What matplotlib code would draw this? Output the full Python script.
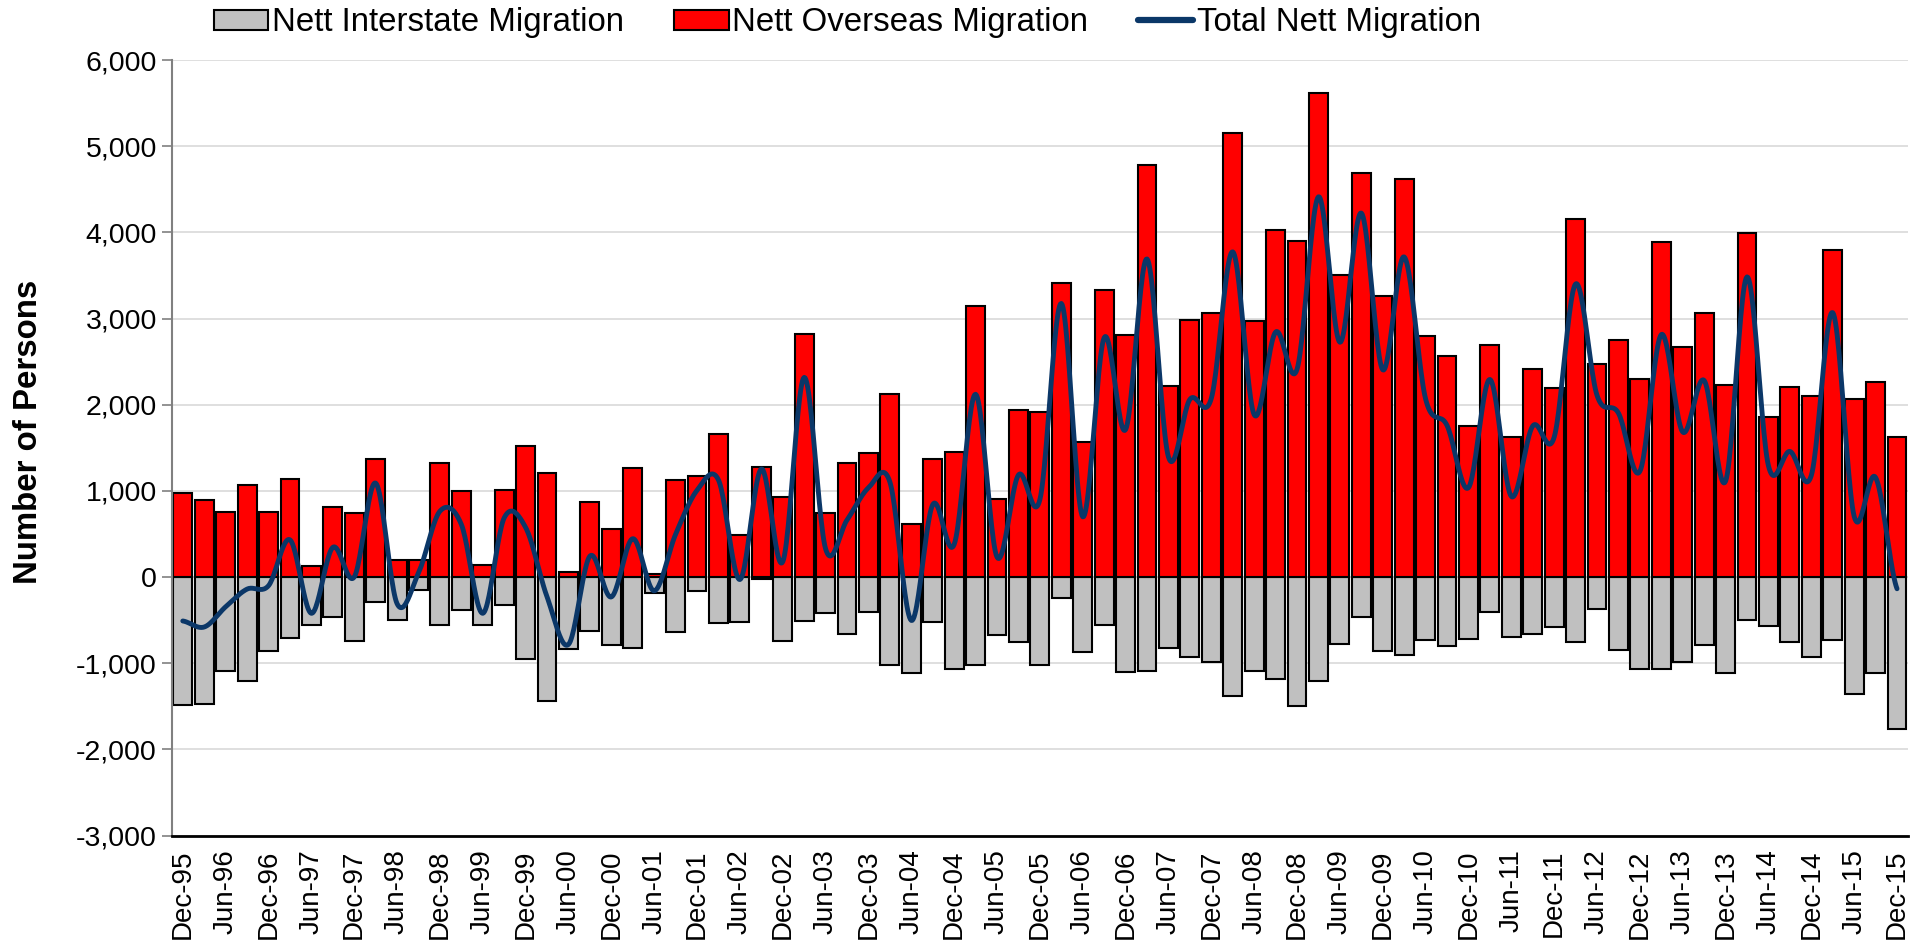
import numpy as np
import matplotlib.pyplot as plt
from matplotlib.ticker import FuncFormatter, MultipleLocator
from matplotlib.patches import Patch
from matplotlib.lines import Line2D

plt.rcParams['font.family'] = ['Liberation Sans', 'DejaVu Sans']

# quarterly, Dec-95 .. Dec-15
overseas = [980, 890, 750, 1070, 752, 1143, 130, 812, 746, 1374,
            195, 195, 1321, 995, 136, 1013, 1523, 1203, 59, 865,
            563, 1268, 30, 1131, 1173, 1659, 492, 1274, 924, 2826,
            746, 1321, 1445, 2121, 610, 1368, 1451, 3140, 906, 1943,
            1919, 3418, 1570, 3335, 2814, 4781, 2216, 2986, 3063, 5154,
            2974, 4028, 3904, 5622, 3507, 4686, 3258, 4621, 2796, 2565,
            1754, 2696, 1629, 2417, 2198, 4159, 2476, 2749, 2299, 3886,
            2666, 3069, 2227, 3987, 1854, 2210, 2103, 3797, 2068, 2269,
            1629]
interstate = [-1490, -1470, -1095, -1210, -853, -711, -551, -468, -746, -284,
              -504, -148, -557, -385, -557, -326, -948, -1434, -841, -622,
              -794, -823, -190, -634, -166, -533, -521, -20, -746, -509,
              -420, -658, -409, -1019, -1114, -527, -1072, -1019, -675, -758,
              -1019, -243, -871, -557, -1102, -1090, -823, -924, -989, -1380,
              -1090, -1185, -1493, -1209, -782, -462, -853, -906, -729, -806,
              -717, -403, -693, -664, -575, -758, -367, -847, -1072, -1072,
              -983, -788, -1114, -504, -563, -752, -924, -729, -1363, -1114,
              -1765]
tick_labels = ['Dec-95', 'Jun-96', 'Dec-96', 'Jun-97', 'Dec-97', 'Jun-98', 'Dec-98',
               'Jun-99', 'Dec-99', 'Jun-00', 'Dec-00', 'Jun-01', 'Dec-01', 'Jun-02',
               'Dec-02', 'Jun-03', 'Dec-03', 'Jun-04', 'Dec-04', 'Jun-05', 'Dec-05',
               'Jun-06', 'Dec-06', 'Jun-07', 'Dec-07', 'Jun-08', 'Dec-08', 'Jun-09',
               'Dec-09', 'Jun-10', 'Dec-10', 'Jun-11', 'Dec-11', 'Jun-12', 'Dec-12',
               'Jun-13', 'Dec-13', 'Jun-14', 'Dec-14', 'Jun-15', 'Dec-15']

overseas = np.array(overseas)
interstate = np.array(interstate)
total = overseas + interstate
x = np.arange(len(overseas))

NAVY = '#0B3768'


def smooth_line(y, n=24):
    # catmull-rom style curve, like excel's "smoothed line"
    y = np.asarray(y, float)
    ext = np.concatenate([[y[0]], y, [y[-1]]])
    xs, ys = [], []
    t = np.linspace(0, 1, n, endpoint=False)
    for i in range(len(y) - 1):
        p0, p1, p2, p3 = ext[i:i + 4]
        m1 = (p2 - p0) / 2
        m2 = (p3 - p1) / 2
        h00 = 2 * t**3 - 3 * t**2 + 1
        h10 = t**3 - 2 * t**2 + t
        h01 = -2 * t**3 + 3 * t**2
        h11 = t**3 - t**2
        ys.append(h00 * p1 + h10 * m1 + h01 * p2 + h11 * m2)
        xs.append(i + t)
    xs.append([len(y) - 1])
    ys.append([y[-1]])
    return np.concatenate(xs), np.concatenate(ys)


fig = plt.figure(figsize=(19.27, 9.5), dpi=100)
ax = fig.add_axes([0.0893, 0.1205, 0.9007, 0.8163])

ax.bar(x, interstate, width=0.88, color='#C0C0C0', edgecolor='black', linewidth=1.5, zorder=2)
ax.bar(x, overseas, width=0.88, color='#FF0000', edgecolor='black', linewidth=1.5, zorder=2)
sx, sy = smooth_line(total)
ax.plot(sx, sy, color=NAVY, linewidth=3.5, zorder=3, solid_capstyle='round')

ax.set_xlim(-0.5, len(x) - 0.5)
ax.set_ylim(-3000, 6000)
ax.yaxis.set_major_locator(MultipleLocator(1000))
ax.yaxis.set_major_formatter(FuncFormatter(lambda v, p: f'{int(v):,}'))
ax.grid(axis='y', color='#D9D9D9', linewidth=1.2, zorder=0)
ax.set_axisbelow(True)

ax.set_xticks(x[::2])
ax.set_xticklabels(tick_labels, rotation=90, fontsize=20)
ax.tick_params(axis='x', length=0, pad=10)
ax.tick_params(axis='y', labelsize=20.5, length=7, width=1.2, color='#808080', pad=4)

for s in ['top', 'right']:
    ax.spines[s].set_visible(False)
ax.spines['left'].set_color('#808080')
ax.spines['left'].set_linewidth(1.5)
ax.spines['bottom'].set_color('black')
ax.spines['bottom'].set_linewidth(2)

fig.text(29 / 1927, 0.545, 'Number of Persons', rotation=90, ha='center', va='center',
         fontsize=23.8, fontweight='bold')

handles = [Patch(facecolor='#C0C0C0', edgecolor='black', linewidth=1.5),
           Patch(facecolor='#FF0000', edgecolor='black', linewidth=1.5),
           Line2D([0], [0], color=NAVY, linewidth=4.5, solid_capstyle='round')]
fig.legend(handles, ['Nett Interstate Migration', 'Nett Overseas Migration', 'Total Nett Migration'],
           loc='center', bbox_to_anchor=(0.4397, 0.976), ncol=3, frameon=False,
           fontsize=23.8, handlelength=1.65, handleheight=0.55, handletextpad=0.12,
           columnspacing=1.5, borderpad=0)

fig.savefig('out.png', dpi=100)
